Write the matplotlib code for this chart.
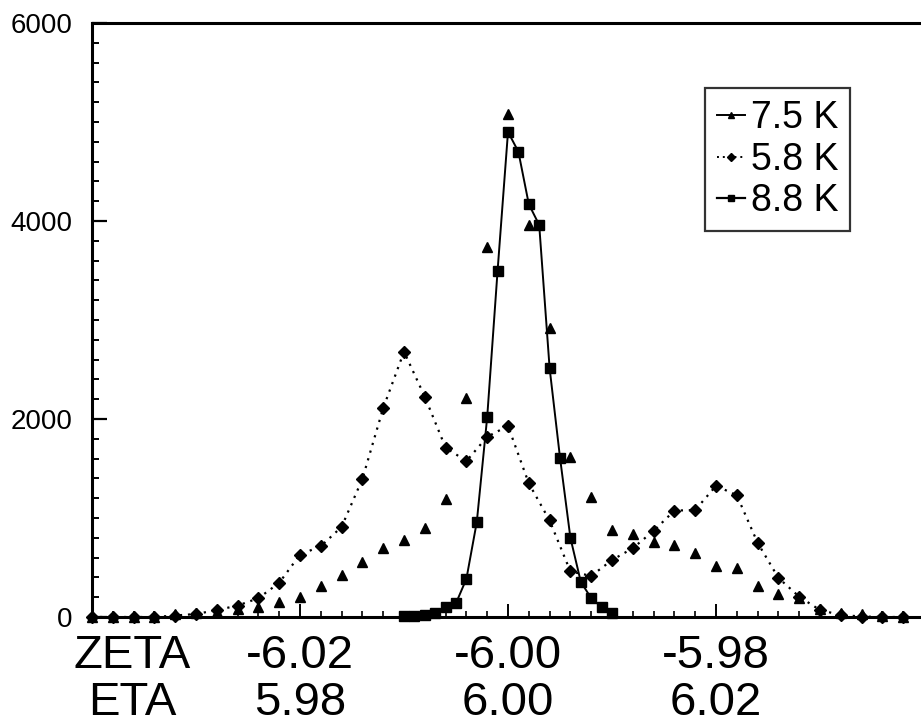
import numpy as np
import matplotlib
matplotlib.use("Agg")
import matplotlib.pyplot as plt
from matplotlib.lines import Line2D
from matplotlib.ticker import MultipleLocator

# scan positions (ZETA); 7.5 K and 5.8 K step 0.002, 8.8 K step 0.001
zeta_start = -6.04
coarse_step = 0.002
fine_step = 0.001

counts_75K = [0, 0, 0, 0, 30, 40, 55, 80, 100, 155,
              205, 315, 425, 560, 695, 780, 900, 1190, 2210, 3740,
              5080, 3960, 2920, 1615, 1215, 880, 835, 755, 725, 645,
              520, 490, 315, 230, 195, 78, 38, 30, 10, 5]

counts_58K = [0, 0, 0, 0, 15, 30, 70, 115, 190, 345,
              630, 715, 910, 1395, 2110, 2680, 2225, 1710, 1575, 1820,
              1930, 1350, 975, 460, 415, 575, 695, 870, 1075, 1080,
              1325, 1230, 750, 395, 205, 70, 20, 5, 0, 0]

counts_88K = [10, 15, 20, 45, 100, 140, 385, 960, 2020, 3500,
              4900, 4700, 4170, 3960, 2515, 1610, 800, 355, 190, 100, 45]
first_88K = 30  # index of first 8.8 K point on the fine grid

zeta_ticks = [-6.02, -6.00, -5.98]
zeta_labels = ["-6.02", "-6.00", "-5.98"]
eta_labels = ["5.98", "6.00", "6.02"]

x_coarse = np.round(zeta_start + coarse_step * np.arange(len(counts_75K)), 4)
x_fine = np.round(zeta_start + fine_step * (first_88K + np.arange(len(counts_88K))), 4)

fig = plt.figure(figsize=(9.21, 7.26), dpi=100)
ax = fig.add_axes([92 / 921, 109 / 726, 829 / 921, 594 / 726])

ax.plot(x_coarse, counts_75K, linestyle="none", marker="^", markersize=7.5,
        color="black", clip_on=False)
ax.plot(x_coarse, counts_58K, linestyle=(0, (1, 2.6)), linewidth=1.6,
        marker="D", markersize=6, color="black", clip_on=False)
ax.plot(x_fine, counts_88K, linestyle="-", linewidth=1.4,
        marker="s", markersize=7.5, color="black", clip_on=False)

ax.set_xlim(zeta_start, zeta_start + 829 / 10400)
ax.set_ylim(0, 6000)

for side in ["left", "bottom", "top"]:
    ax.spines[side].set_linewidth(2.2)
ax.spines["right"].set_visible(False)

ax.yaxis.set_major_locator(MultipleLocator(2000))
ax.yaxis.set_minor_locator(MultipleLocator(200))
ax.xaxis.set_minor_locator(MultipleLocator(coarse_step))
ax.set_xticks(zeta_ticks)
ax.set_xticklabels([z + "\n" + e for z, e in zip(zeta_labels, eta_labels)])

label_size = 34
label_pad = 12
label_spacing = 1.1

ax.tick_params(axis="y", which="major", direction="in", length=11, width=1.6,
               pad=14, labelsize=20)
ax.tick_params(axis="y", which="minor", direction="in", length=5, width=1.4)
ax.tick_params(axis="x", which="major", direction="in", length=9.5, width=1.4,
               pad=label_pad, labelsize=label_size)
ax.tick_params(axis="x", which="minor", direction="in", length=4, width=1.2)
ax.tick_params(top=False, right=False, which="both")

for lbl in ax.get_xticklabels():
    lbl.set_family("Liberation Sans")
    lbl.set_linespacing(label_spacing)
for lbl in ax.get_yticklabels():
    lbl.set_family("Liberation Sans")

# row names under the axis
ax.annotate("ZETA\nETA", xy=(0.049, 0), xycoords="axes fraction",
            xytext=(0, -label_pad), textcoords="offset points",
            ha="center", va="top", fontsize=label_size,
            family="Liberation Sans", linespacing=label_spacing)

handles = [
    Line2D([], [], color="black", linewidth=1.4, marker="^", markersize=5),
    Line2D([], [], color="black", linewidth=1.4, linestyle=(0, (1, 2)),
           marker="D", markersize=4),
    Line2D([], [], color="black", linewidth=1.6, marker="s", markersize=5),
]
leg = ax.legend(handles, ["7.5 K", "5.8 K", "8.8 K"], loc="upper right",
                bbox_to_anchor=((850 - 92) / 829, (617 - 88) / 594),
                borderaxespad=0, fancybox=False, frameon=True,
                prop={"family": "Liberation Sans", "size": 27},
                handlelength=0.75, handletextpad=0.15, labelspacing=0.15,
                borderpad=0.32)
leg.get_frame().set_edgecolor("black")
leg.get_frame().set_linewidth(1.6)

fig.savefig("out.png", dpi=100)
